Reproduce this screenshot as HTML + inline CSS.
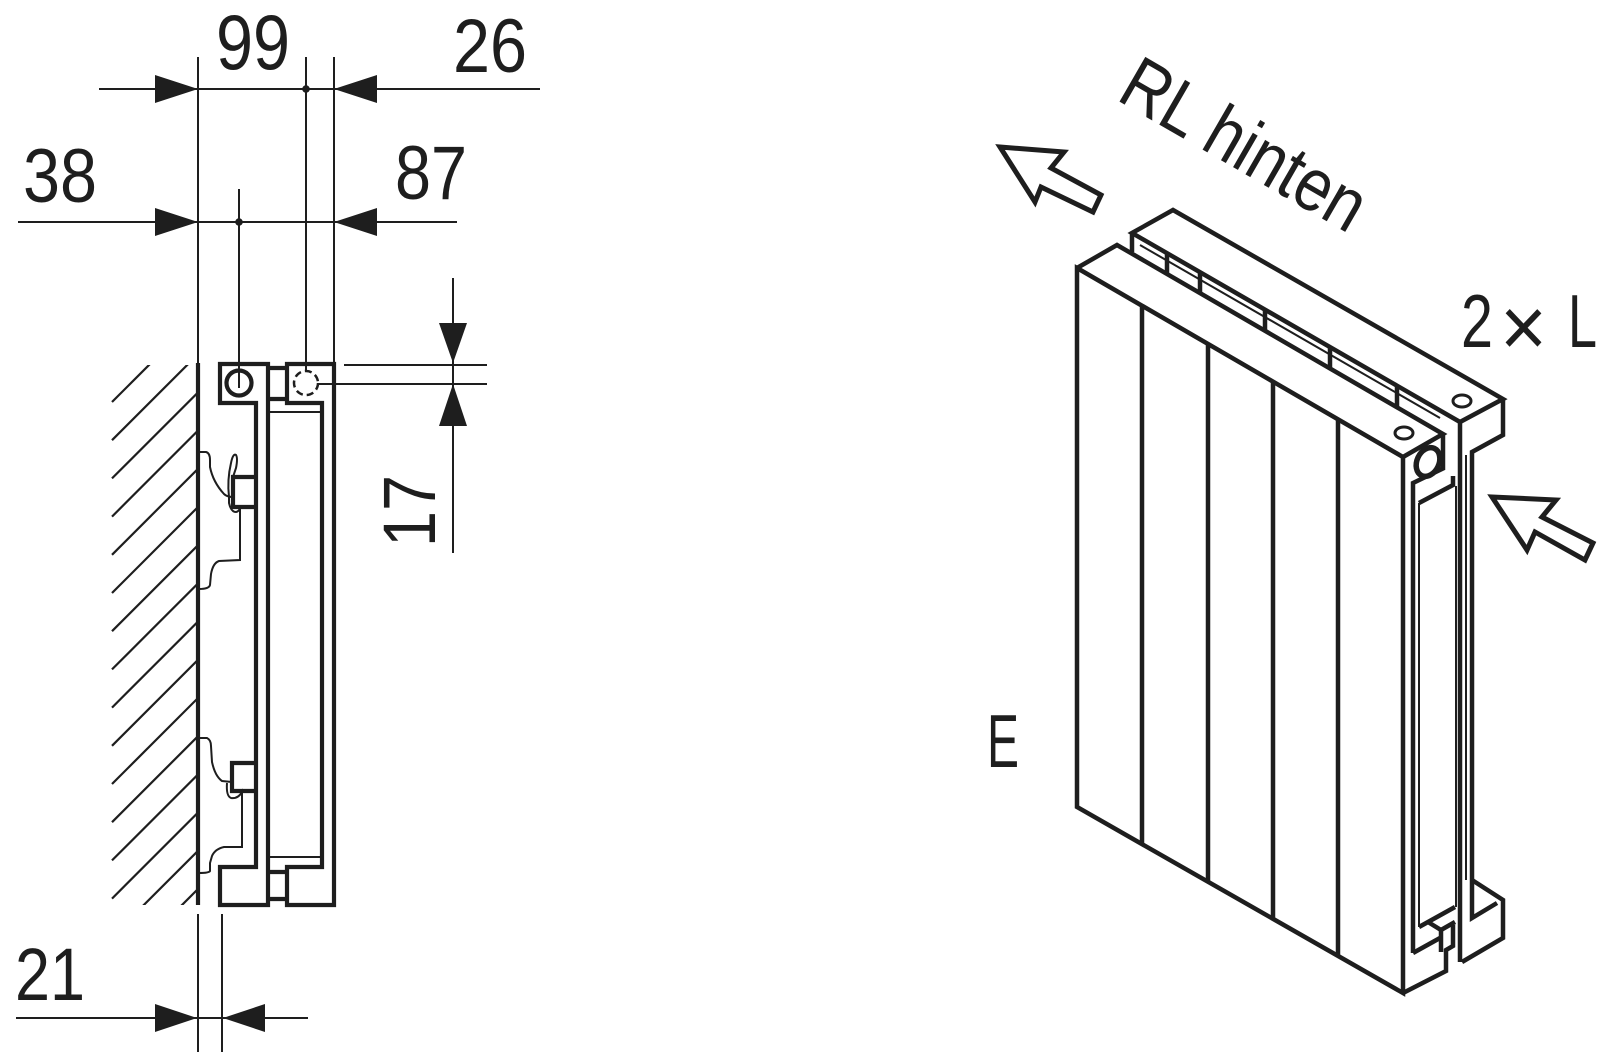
<!DOCTYPE html>
<html>
<head>
<meta charset="utf-8">
<style>
  html,body{margin:0;padding:0;background:#fff;}
  svg{display:block;}
  text{font-family:"Liberation Sans","DejaVu Sans",sans-serif;fill:#1e1e1e;}
</style>
</head>
<body>
<svg width="1600" height="1052" viewBox="0 0 1600 1052" xmlns="http://www.w3.org/2000/svg">
  <defs>
    <clipPath id="hc"><rect x="111" y="365" width="86" height="540"/></clipPath>
  </defs>

  <!-- ============ LEFT: SECTION VIEW ============ -->
  <!-- hatching -->
  <g clip-path="url(#hc)" stroke="#1e1e1e" stroke-width="2.2" fill="none">
    <line x1="112" y1="402" x2="412" y2="102"/>
    <line x1="112" y1="440.2" x2="412" y2="140.2"/>
    <line x1="112" y1="478.4" x2="412" y2="178.4"/>
    <line x1="112" y1="516.6" x2="412" y2="216.6"/>
    <line x1="112" y1="554.8" x2="412" y2="254.8"/>
    <line x1="112" y1="593" x2="412" y2="293"/>
    <line x1="112" y1="631.2" x2="412" y2="331.2"/>
    <line x1="112" y1="669.4" x2="412" y2="369.4"/>
    <line x1="112" y1="707.6" x2="412" y2="407.6"/>
    <line x1="112" y1="745.8" x2="412" y2="445.8"/>
    <line x1="112" y1="784" x2="412" y2="484"/>
    <line x1="112" y1="822.2" x2="412" y2="522.2"/>
    <line x1="112" y1="860.4" x2="412" y2="560.4"/>
    <line x1="112" y1="898.6" x2="412" y2="598.6"/>
    <line x1="112" y1="936.8" x2="412" y2="636.8"/>
    <line x1="112" y1="975" x2="412" y2="675"/>
  </g>

  <!-- thin dimension/extension lines -->
  <g stroke="#1e1e1e" stroke-width="2" fill="none">
    <line x1="198" y1="57" x2="198" y2="364"/>
    <line x1="306" y1="57" x2="306" y2="371"/>
    <line x1="334" y1="57" x2="334" y2="364"/>
    <line x1="239" y1="189" x2="239" y2="388"/>
    <line x1="99" y1="89" x2="540" y2="89"/>
    <line x1="18" y1="222" x2="457" y2="222"/>
    <line x1="453" y1="278" x2="453" y2="553"/>
    <line x1="344" y1="365" x2="487" y2="365"/>
    <line x1="318" y1="384" x2="487" y2="384"/>
    <line x1="198" y1="914" x2="198" y2="1052"/>
    <line x1="222" y1="914" x2="222" y2="1052"/>
    <line x1="16" y1="1018" x2="308" y2="1018"/>
  </g>
  <!-- arrowheads -->
  <g fill="#1e1e1e" stroke="none">
    <polygon points="198,89 155,75 155,103"/>
    <polygon points="334,89 377,75 377,103"/>
    <polygon points="198,222 155,208 155,236"/>
    <polygon points="334,222 377,208 377,236"/>
    <polygon points="453,363 439,323 467,323"/>
    <polygon points="453,384 439,426 467,426"/>
    <polygon points="197,1018 155,1004 155,1032"/>
    <polygon points="223,1018 265,1004 265,1032"/>
    <circle cx="306" cy="89" r="3.8"/>
    <circle cx="239" cy="222" r="3.8"/>
  </g>

  <!-- wall line thick -->
  <line x1="198" y1="363" x2="198" y2="905" stroke="#1e1e1e" stroke-width="4.2"/>

  <!-- radiator profiles -->
  <g stroke="#1e1e1e" stroke-width="4.2" fill="none" stroke-linejoin="miter">
    <polygon points="220,364 268,364 268,905 220,905 220,867 256,867 256,403 220,403"/>
    <polygon points="287,364 334,364 334,905 287,905 287,867 322,867 322,403 287,403"/>
    <line x1="268" y1="368" x2="287" y2="368"/>
    <line x1="268" y1="399" x2="287" y2="399"/>
    <line x1="268" y1="872" x2="287" y2="872"/>
    <line x1="268" y1="899" x2="287" y2="899"/>
    <circle cx="239" cy="383" r="12.5"/>
    <!-- clips -->
    <polyline points="256,477 233,477 233,507 256,507"/>
    <polyline points="256,763 232,763 232,791 256,791"/>
  </g>
  <g stroke="#1e1e1e" stroke-width="2" fill="none">
    <line x1="268" y1="412" x2="322" y2="412"/>
    <line x1="268" y1="857" x2="322" y2="857"/>
    <circle cx="306" cy="383" r="12" stroke-width="2.5" stroke-dasharray="7 4"/>
    <!-- top bracket -->
    <path d="M198,452 L206,452 Q210,453 210,460 L210,467 Q213,482 224,494 Q227,497 233,497"/>
    <path d="M229,497 Q227,480 231,463 Q233,453 236,455 Q238,458 236,468 L233,477"/>
    <path d="M229,497 L229,503 Q231,512 236,512 Q240,511 240,507 L240,560 L219,561 Q213,563 211,574 L210,585 Q209,589 199,589"/>
    <!-- bottom bracket -->
    <path d="M198,738 L207,738 Q211,740 211,746 L212,762 Q215,776 222,781 L232,782"/>
    <path d="M227,783 Q226,796 231,798 Q238,799 242,792 L242,847 L224,847 Q215,849 212,856 L210,863 L210,871 Q209,873 199,873"/>
  </g>

  <!-- dimension texts -->
  <text x="216" y="69" font-size="78" textLength="74" lengthAdjust="spacingAndGlyphs">99</text>
  <text x="453" y="72" font-size="76" textLength="74" lengthAdjust="spacingAndGlyphs">26</text>
  <text x="23" y="202" font-size="76" textLength="74" lengthAdjust="spacingAndGlyphs">38</text>
  <text x="395" y="199" font-size="76" textLength="72" lengthAdjust="spacingAndGlyphs">87</text>
  <text x="15" y="1000" font-size="74" textLength="70" lengthAdjust="spacingAndGlyphs">21</text>
  <text transform="translate(435,547) rotate(-90)" x="0" y="0" font-size="74" textLength="72" lengthAdjust="spacingAndGlyphs">17</text>

  <!-- ============ RIGHT: ISOMETRIC RADIATOR ============ -->
  <g stroke="#1e1e1e" stroke-width="4.5" fill="none" stroke-linejoin="miter" stroke-linecap="butt">
    <!-- back panel top -->
    <polygon points="1132,233 1173,210 1503,399 1460,422" fill="#fff"/>
    <line x1="1132" y1="233" x2="1132" y2="252"/>
    <!-- back panel end -->
    <polyline points="1503,399 1503,435 1472,452 1472,880"/>
    <line x1="1460" y1="422" x2="1460" y2="962"/>
    <!-- back panel bottom -->
    <polyline points="1472,880 1503,900 1503,938 1462,962"/>
    <polyline points="1472,880 1472,918 1497,903"/>

    <!-- connectors ticks in gap -->
    <line x1="1167" y1="253" x2="1167" y2="274"/>
    <line x1="1200" y1="272" x2="1200" y2="293"/>
    <line x1="1265" y1="310" x2="1265" y2="331"/>
    <line x1="1330" y1="347" x2="1330" y2="368"/>
    <line x1="1397" y1="386" x2="1397" y2="407"/>

    <!-- front panel -->
    <polygon points="1077,268 1403,457 1403,993 1077,807" fill="#fff"/>
    <polyline points="1077,268 1117,245 1443,434 1403,457"/>
    <!-- grooves -->
    <line x1="1142" y1="306" x2="1142" y2="844"/>
    <line x1="1208" y1="344" x2="1208" y2="881"/>
    <line x1="1273" y1="382" x2="1273" y2="918"/>
    <line x1="1338" y1="419" x2="1338" y2="955"/>

    <!-- front panel end face -->
    <polyline points="1413,953 1413,483 1444,468"/>
    <polyline points="1419,503 1453,485 1453,476"/>
    <polyline points="1403,993 1446,971 1446,950 1453,946 1453,925"/>
    <polyline points="1413,953 1440,938"/>
    <polyline points="1419,927 1428,922 1455,907"/>
    <polyline points="1428,922 1441,930 1455,922"/>
    <line x1="1441" y1="930" x2="1441" y2="952"/>
    <ellipse cx="1428" cy="462" rx="11" ry="15" transform="rotate(25 1428 462)" stroke-width="5.5"/>
    <line x1="1443" y1="434" x2="1443" y2="470"/>
  </g>
  <g stroke="#1e1e1e" stroke-width="2" fill="none">
    <line x1="1140" y1="245" x2="1440" y2="418"/>
    <line x1="1419" y1="503" x2="1419" y2="927"/>
    <line x1="1456" y1="486" x2="1456" y2="907"/>
    <line x1="1466" y1="455" x2="1466" y2="880"/>
  </g>
  <g stroke="#1e1e1e" stroke-width="3" fill="#fff">
    <ellipse cx="1462" cy="401" rx="9" ry="6"/>
    <ellipse cx="1404" cy="433" rx="9" ry="6"/>
  </g>

  <!-- arrows -->
  <g stroke="#1e1e1e" stroke-width="5" fill="#fff" stroke-linejoin="miter">
    <polygon points="1000,147 1064,152 1051,168 1101,195 1093,212 1041,187 1035,202"/>
    <polygon points="1492,497 1556,500 1542,517 1593,543 1585,560 1535,532 1527,550"/>
  </g>

  <!-- labels -->
  <text transform="translate(1115,99) rotate(30)" x="0" y="0" font-size="75" textLength="270" lengthAdjust="spacingAndGlyphs">RL hinten</text>
  <text x="1461" y="347" font-size="75" textLength="32" lengthAdjust="spacingAndGlyphs">2</text>
  <text x="1500" y="356" font-size="84" textLength="47" lengthAdjust="spacingAndGlyphs">×</text>
  <text x="1568" y="347" font-size="75" textLength="29" lengthAdjust="spacingAndGlyphs">L</text>
  <text x="987" y="767" font-size="75" textLength="32" lengthAdjust="spacingAndGlyphs">E</text>
</svg>
</body>
</html>
